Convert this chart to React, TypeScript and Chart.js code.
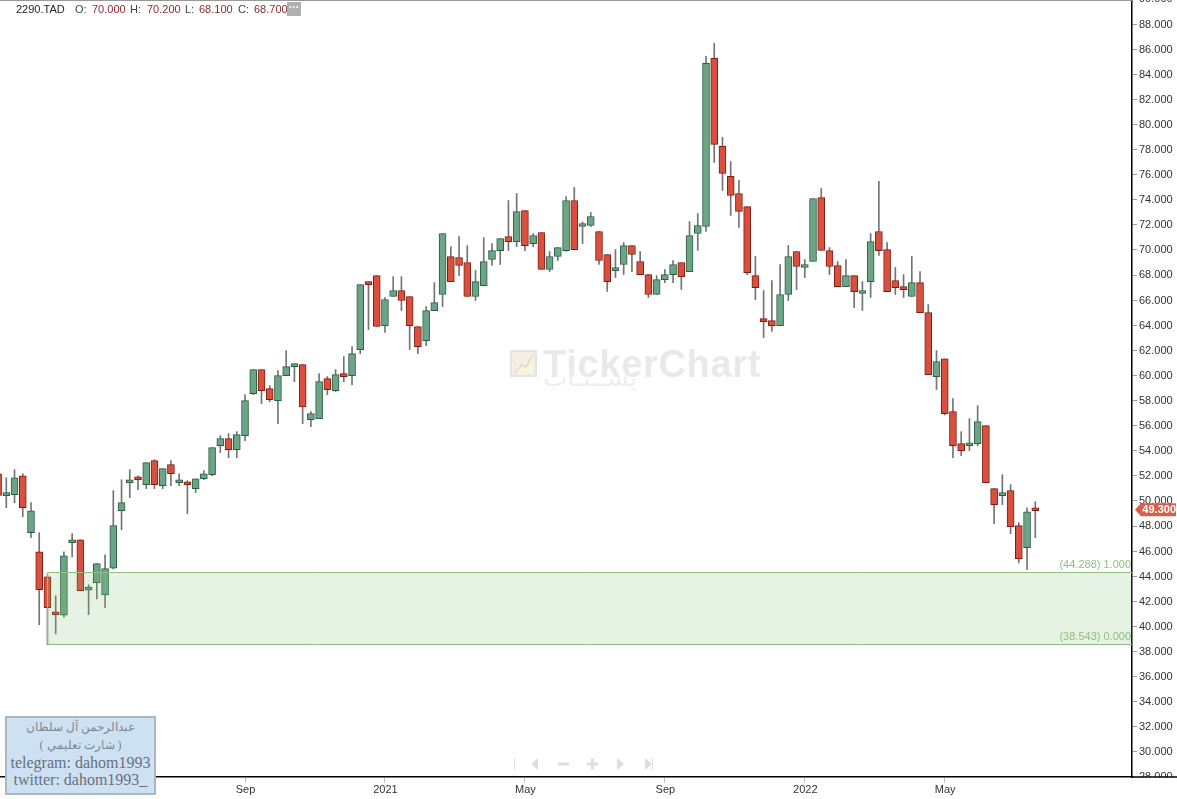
import React, { useEffect, useRef } from "react";
import { Chart, registerables } from "chart.js";

Chart.register(...registerables);

// Weekly OHLC; the first entry is the partly hidden candle at the left edge.
const opens = [52.17, 50.42, 50.5, 52.01, 47.47, 45.95, 43.96, 41.09, 40.9, 46.67, 46.91, 42.89, 43.48, 42.52, 44.65, 49.22, 51.45, 51.77, 51.29, 53.21, 51.21, 52.89, 51.45, 51.45, 50.98, 51.77, 52.09, 54.4, 54.96, 54.09, 55.2, 58.55, 60.47, 58.95, 57.99, 59.99, 60.7, 60.86, 56.48, 56.56, 59.75, 58.79, 60.15, 59.99, 62.06, 67.48, 67.96, 63.97, 66.29, 66.77, 66.29, 63.9, 62.78, 65.17, 66.45, 69.48, 69.4, 69.0, 66.29, 67.16, 69.24, 69.95, 71.07, 70.67, 73.14, 70.51, 71.39, 68.44, 69.48, 69.95, 73.94, 71.87, 71.95, 71.47, 69.64, 68.36, 68.84, 70.35, 69.08, 68.04, 66.45, 67.64, 68.04, 69.0, 68.28, 71.31, 71.87, 85.27, 78.25, 75.86, 74.5, 73.46, 67.96, 64.45, 64.37, 63.97, 66.45, 69.88, 68.6, 69.08, 74.18, 69.95, 68.76, 67.08, 67.96, 66.53, 67.48, 71.47, 70.03, 67.56, 67.08, 66.29, 67.4, 65.01, 59.91, 61.32, 57.12, 54.57, 54.4, 54.57, 56.0, 50.98, 50.42, 50.82, 48.03, 46.27, 49.3];
const highs = [52.17, 51.85, 52.49, 52.17, 49.86, 47.47, 44.1, 42.44, 45.95, 47.39, 46.91, 43.32, 45.0, 45.71, 50.82, 51.69, 52.49, 52.01, 53.05, 53.29, 52.57, 53.21, 52.17, 51.61, 51.77, 52.41, 54.25, 55.2, 55.36, 55.52, 58.47, 60.47, 60.47, 59.19, 60.39, 61.98, 60.94, 60.86, 57.12, 60.15, 59.91, 60.47, 61.5, 62.3, 67.24, 67.48, 67.96, 66.21, 67.88, 67.88, 66.29, 63.9, 65.49, 67.4, 71.31, 70.27, 71.07, 70.35, 68.36, 70.99, 70.51, 70.91, 73.94, 74.5, 73.14, 71.31, 71.39, 69.88, 70.19, 74.26, 74.98, 72.24, 72.99, 71.47, 69.64, 70.03, 70.59, 70.35, 69.88, 68.04, 67.96, 68.44, 69.16, 69.0, 72.27, 72.91, 85.43, 86.46, 78.97, 77.05, 75.54, 73.46, 69.48, 66.77, 67.56, 68.84, 70.35, 69.88, 69.24, 74.1, 74.9, 70.19, 69.08, 69.24, 67.96, 67.48, 71.31, 75.46, 70.59, 68.6, 68.04, 69.48, 68.28, 65.65, 61.98, 61.32, 58.15, 55.52, 56.56, 57.59, 56.0, 50.98, 52.09, 51.3, 48.27, 49.46, 49.94];
const lows = [50.44, 49.46, 49.86, 48.74, 47.07, 40.13, 38.54, 39.41, 40.74, 45.53, 42.84, 40.93, 42.2, 41.49, 44.57, 47.7, 50.26, 50.9, 50.98, 50.98, 50.98, 51.21, 51.21, 48.98, 50.66, 51.69, 52.01, 53.85, 53.45, 53.45, 54.8, 58.47, 57.75, 57.91, 56.16, 59.99, 59.51, 56.16, 55.92, 56.56, 58.47, 58.71, 59.51, 59.27, 61.74, 63.65, 63.9, 63.42, 66.29, 65.17, 62.06, 61.74, 62.38, 65.17, 65.49, 67.48, 67.96, 66.29, 65.97, 67.16, 68.76, 68.84, 69.95, 70.27, 69.95, 70.27, 68.44, 68.28, 69.16, 69.88, 70.03, 70.51, 71.87, 68.84, 66.69, 67.8, 68.04, 68.28, 68.04, 66.21, 66.45, 67.4, 67.4, 66.85, 68.28, 69.96, 71.47, 76.97, 74.74, 72.75, 71.79, 68.04, 66.05, 63.02, 63.5, 63.97, 65.97, 66.85, 67.8, 69.08, 69.96, 68.04, 67.08, 67.08, 65.41, 65.17, 66.21, 69.56, 66.68, 66.45, 66.21, 66.29, 65.01, 60.07, 58.87, 56.85, 53.45, 53.61, 54.01, 54.4, 51.45, 48.19, 49.7, 47.39, 45.07, 44.52, 47.07];
const closes = [50.44, 50.5, 51.85, 49.46, 49.22, 42.92, 41.49, 40.93, 45.63, 46.83, 42.84, 43.0, 45.0, 44.6, 48.03, 49.86, 51.69, 51.69, 53.05, 51.29, 52.57, 52.17, 51.61, 51.29, 51.77, 52.17, 54.25, 54.96, 54.09, 55.28, 57.99, 60.47, 58.79, 58.07, 59.99, 60.7, 60.86, 57.49, 56.96, 59.51, 58.87, 60.07, 59.91, 61.74, 67.24, 67.24, 63.9, 66.05, 66.77, 65.97, 63.97, 62.3, 65.17, 65.81, 71.31, 67.48, 68.76, 66.29, 67.48, 69.08, 69.95, 70.91, 70.67, 73.06, 70.35, 71.15, 68.44, 69.48, 70.19, 73.94, 70.03, 71.92, 72.67, 69.16, 67.48, 68.44, 70.35, 69.64, 68.04, 66.45, 67.64, 68.04, 68.84, 67.88, 71.15, 71.95, 84.87, 78.41, 76.1, 74.34, 73.07, 68.2, 67.0, 64.29, 63.97, 66.45, 69.48, 68.68, 68.68, 74.1, 69.96, 68.68, 67.08, 67.96, 66.68, 66.6, 70.67, 69.95, 66.68, 67.0, 66.84, 67.4, 65.01, 60.07, 61.1, 56.96, 54.4, 54.01, 54.48, 56.32, 51.45, 49.7, 50.5, 47.95, 45.39, 49.14, 49.22];

const firstCandleSlot = -1;
const xTickSlots = [12, 29, 46, 63, 80, 97, 114];
const xTickLabels = ["May", "Sep", "2021", "May", "Sep", "2022", "May"];
const priceMin = 28;
const priceMax = 90;
const priceStep = 2;
const lastPrice = 49.3;
const zoneHigh = 44.288;
const zoneLow = 38.543;
const zoneStartSlot = 5;
const symbol = "2290.TAD";
const quote = [["O:", "70.000"], ["H:", "70.200"], ["L:", "68.100"], ["C:", "68.700"]];
const noteArabic = ["عبدالرحمن آل سلطان", "( شارت تعليمي )"];
const noteLatin = ["telegram: dahom1993", "twitter: dahom1993_"];

const SANS = "'Liberation Sans', Arial, sans-serif";
const GREEN = "#6ba585", GREEN_EDGE = "#2b5e45", RED = "#d9503e", RED_EDGE = "#7c1d14", WICK = "#747474";

const overlay = {
  id: "overlay",
  beforeDatasetsDraw(chart: any) {
    const c = chart.ctx;
    c.save();
    // logo
    c.fillStyle = "#f3efe6";
    c.fillRect(511, 371, 25, 25);
    c.strokeStyle = "#e4e4e4"; c.lineWidth = 2;
    c.strokeRect(511, 371, 25, 25);
    c.fillStyle = "#fbf3dc";
    c.beginPath(); c.moveTo(514, 393); c.lineTo(522, 385); c.lineTo(526, 387); c.lineTo(533, 375); c.lineTo(533, 393); c.closePath(); c.fill();
    c.strokeStyle = "#e6dcc4"; c.lineWidth = 1.5;
    c.beginPath(); c.moveTo(514, 393); c.lineTo(522, 385); c.lineTo(526, 387); c.lineTo(533, 375); c.stroke();
    // word mark
    c.fillStyle = "#e9e9e9";
    c.font = `bold 38px ${SANS}`;
    c.textAlign = "left"; c.textBaseline = "alphabetic";
    c.letterSpacing = "0.7px";
    c.fillText("TickerChart", 543, 397);
    c.letterSpacing = "0px";
    c.fillStyle = "#eeeeee";
    c.font = "26px 'Noto Sans', sans-serif";
    c.textAlign = "center";
    c.fillText("يســنـاب", 590, 406);
    c.restore();
  },
  afterDatasetsDraw(chart: any) {
    const c = chart.ctx, y = chart.scales.y, x = chart.scales.x, a = chart.chartArea;
    const x0 = x.getPixelForValue(zoneStartSlot), yt = Math.floor(y.getPixelForValue(zoneHigh)) + 0.5, yb = Math.floor(y.getPixelForValue(zoneLow)) + 0.5;
    c.save();
    c.beginPath(); c.rect(a.left, a.top, a.right - a.left, a.bottom - a.top); c.clip();
    c.fillStyle = "rgba(128,188,115,0.2)";
    c.fillRect(x0, yt, a.right - x0, yb - yt);
    c.strokeStyle = "#93bd82"; c.lineWidth = 1;
    c.beginPath();
    c.moveTo(a.right, yt); c.lineTo(x0, yt); c.lineTo(x0, yb); c.lineTo(a.right, yb);
    c.stroke();
    c.fillStyle = "#8cc17a";
    c.font = `11px ${SANS}`;
    c.textAlign = "right"; c.textBaseline = "middle";
    c.fillText(`(${zoneHigh.toFixed(3)}) 1.000`, a.right - 1, yt - 8);
    c.fillText(`(${zoneLow.toFixed(3)}) 0.000`, a.right - 1, yb - 8);
    c.restore();
  },
  afterDraw(chart: any) {
    const c = chart.ctx, y = chart.scales.y, a = chart.chartArea;
    const yp = y.getPixelForValue(lastPrice);
    c.save();
    // lower half of the bottom price label sits behind the time axis
    c.fillStyle = "#ffffff";
    c.fillRect(a.right + 1, a.bottom, 60, 22);
    c.strokeStyle = "#000"; c.lineWidth = 1.5;
    c.beginPath(); c.moveTo(a.right, a.bottom); c.lineTo(1177, a.bottom); c.stroke();
    // last price tag
    c.fillStyle = "#da5f4b";
    c.beginPath();
    c.moveTo(1135, yp); c.lineTo(1141, yp - 6.5); c.lineTo(1176, yp - 6.5); c.lineTo(1176, yp + 6.5); c.lineTo(1141, yp + 6.5); c.closePath();
    c.fill();
    c.fillStyle = "#ffffff";
    c.font = `bold 11px ${SANS}`;
    c.textAlign = "right"; c.textBaseline = "middle";
    c.fillText(lastPrice.toFixed(3), 1176, yp + 0.5);
    // navigation controls
    const ny = 784;
    c.fillStyle = "#dedede"; c.strokeStyle = "#dedede"; c.lineWidth = 1;
    c.fillRect(514, ny - 6, 1, 12);
    c.beginPath(); c.moveTo(531, ny); c.lineTo(538, ny - 6); c.lineTo(538, ny + 6); c.closePath(); c.fill();
    c.fillRect(558, ny - 1.5, 11, 3);
    c.fillRect(587, ny - 1.5, 11, 3);
    c.fillRect(591, ny - 5.5, 3, 11);
    c.beginPath(); c.moveTo(624, ny); c.lineTo(617, ny - 6); c.lineTo(617, ny + 6); c.closePath(); c.fill();
    c.beginPath(); c.moveTo(652, ny); c.lineTo(645, ny - 6); c.lineTo(645, ny + 6); c.closePath(); c.fill();
    c.fillRect(652, ny - 6, 1, 12);
    c.restore();
  },
};

export default function App() {
  const ref = useRef<HTMLCanvasElement>(null);
  useEffect(() => {
    const slots = opens.map((_, i) => i + firstCandleSlot);
    const up = opens.map((o, i) => closes[i] >= o);
    const chart = new Chart(ref.current as any, {
      type: "bar",
      data: {
        datasets: [
          {
            label: "Range",
            order: 2,
            grouped: false,
            barThickness: 1,
            backgroundColor: WICK,
            borderWidth: 0,
            data: slots.map((s, i) => ({ x: s, y: [lows[i], highs[i]] })),
          },
          {
            label: "Body",
            order: 1,
            grouped: false,
            barThickness: 7,
            minBarLength: 3,
            backgroundColor: up.map((u) => (u ? GREEN : RED)),
            borderColor: up.map((u) => (u ? GREEN_EDGE : RED_EDGE)),
            borderWidth: 1,
            borderSkipped: false,
            data: slots.map((s, i) => ({ x: s, y: [opens[i], closes[i]] })),
          },
        ] as any,
      },
      options: {
        responsive: false,
        animation: false,
        events: [],
        layout: { padding: { top: 19, left: 0, right: 0, bottom: 0 } },
        plugins: { legend: { display: false }, tooltip: { enabled: false } },
        scales: {
          x: {
            type: "linear",
            offset: false,
            min: -0.765,
            max: 136.75,
            grid: { offset: false, drawOnChartArea: false, drawTicks: true, tickLength: 6, color: "#c4c4c4" },
            border: { color: "#000", width: 1.5 },
            afterBuildTicks(s: any) { s.ticks = xTickSlots.map((value) => ({ value })); },
            afterFit(s: any) { s.height = 22; },
            ticks: {
              autoSkip: false, maxRotation: 0, minRotation: 0, padding: 0, labelOffset: 0.5,
              font: { family: SANS, size: 11 }, color: "#333",
              callback: (v: any) => xTickLabels[xTickSlots.indexOf(v)] ?? "",
            },
          },
          y: {
            type: "linear",
            position: "right",
            min: priceMin,
            max: priceMax,
            grid: { drawOnChartArea: false, drawTicks: true, tickLength: 5, color: "#9a9a9a" },
            border: { color: "#000", width: 1.5 },
            afterFit(s: any) { s.width = 45; },
            ticks: {
              stepSize: priceStep, autoSkip: false, padding: 2, labelOffset: 0.4,
              font: { family: SANS, size: 11 }, color: "#333",
              callback: (v: any) => Number(v).toFixed(3),
            },
          },
        },
      } as any,
      plugins: [overlay as any],
    });
    return () => chart.destroy();
  }, []);

  const quoteX = [75, 130, 185, 238];
  const valueX = [92, 147, 199, 254];
  const label: React.CSSProperties = { position: "absolute", top: 3, font: `11px ${SANS}`, lineHeight: "13px", whiteSpace: "nowrap" };
  return (
    <div style={{ position: "absolute", left: 0, top: 0, width: 1177, height: 799, overflow: "hidden", background: "#fff" }}>
      <canvas ref={ref} width={1177} height={819} style={{ position: "absolute", left: 0, top: -20, width: 1177, height: 819 }} />
      <div style={{ position: "absolute", left: 0, top: 0, width: 1132, height: 1, background: "#999" }} />
      <span style={{ ...label, left: 16, color: "#222" }}>{symbol}</span>
      {quote.map(([k, v], i) => (
        <React.Fragment key={k}>
          <span style={{ ...label, left: quoteX[i], color: "#444" }}>{k}</span>
          <span style={{ ...label, left: valueX[i], color: "#8b2c2c" }}>{v}</span>
        </React.Fragment>
      ))}
      <div style={{ position: "absolute", left: 287, top: 2, width: 14, height: 14, background: "#b0b0b0", color: "#fff", font: `bold 10px ${SANS}`, lineHeight: "11px", textAlign: "center" }}>···</div>
      <div style={{ position: "absolute", left: 5, top: 716, width: 147, height: 74, background: "#cee1f3", border: "2px solid #aab8c4", textAlign: "center", font: "16px 'Liberation Serif', serif", color: "#66707c", lineHeight: "17.3px", paddingTop: 1, boxSizing: "content-box" }}>
        {noteArabic.map((t) => <div key={t} style={{ whiteSpace: "nowrap", fontSize: 12, color: "#7c8894", lineHeight: "17.6px" }}>{t}</div>)}
        {noteLatin.map((t) => <div key={t} style={{ whiteSpace: "nowrap" }}>{t}</div>)}
      </div>
    </div>
  );
}
